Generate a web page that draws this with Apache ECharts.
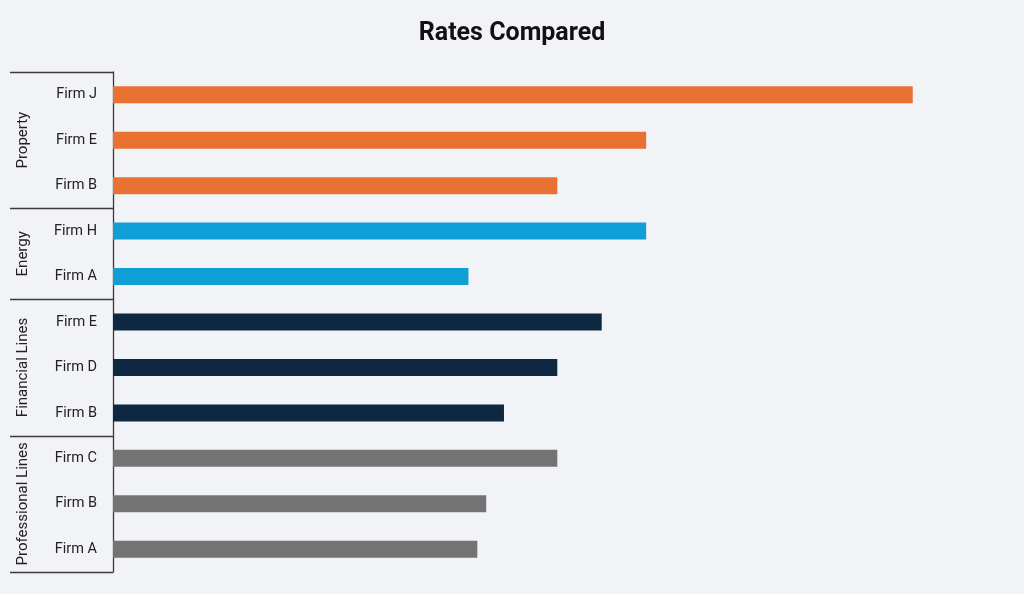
<!DOCTYPE html>
<html>
<head>
<meta charset="utf-8">
<script src="https://cdn.jsdelivr.net/npm/echarts@6/dist/echarts.min.js"></script>
<style>
html,body{margin:0;padding:0;background:#f2f3f7;}
#chart{width:1024px;height:594px;}
</style>
</head>
<body>
<div id="chart"></div>
<script>
// ---- data ----
const groups = ['Property', 'Energy', 'Financial Lines', 'Professional Lines'];
const propertyFirms = ['Firm J', 'Firm E', 'Firm B'];
const propertyRates = [1.8, 1.2, 1.0];
const energyFirms = ['Firm H', 'Firm A'];
const energyRates = [1.2, 0.8];
const financialFirms = ['Firm E', 'Firm D', 'Firm B'];
const financialRates = [1.1, 1.0, 0.88];
const professionalFirms = ['Firm C', 'Firm B', 'Firm A'];
const professionalRates = [1.0, 0.84, 0.82];
const groupColors = ['#E97132', '#0F9ED5', '#0E2841', '#737373'];

const groupFirms = [propertyFirms, energyFirms, financialFirms, professionalFirms];
const groupRates = [propertyRates, energyRates, financialRates, professionalRates];

const categories = [];
const barData = [];
const groupStarts = [];
groupFirms.forEach((firms, g) => {
  groupStarts.push(categories.length);
  firms.forEach((f, i) => {
    categories.push(groups[g] + '|' + f);
    barData.push({ value: groupRates[g][i], itemStyle: { color: groupColors[g] } });
  });
});
groupStarts.push(categories.length);

const FONT = 'Roboto, "Noto Sans", sans-serif';
const chart = echarts.init(document.getElementById('chart'), null, { renderer: 'canvas' });
chart.setOption({
  backgroundColor: '#f2f3f7',
  animation: false,
  title: {
    text: 'Rates Compared',
    left: 'center',
    top: 16,
    textStyle: { fontFamily: FONT, fontSize: 25, fontWeight: 'bold', color: '#111' }
  },
  grid: { left: 113, right: 22.4, top: 72, bottom: 22, containLabel: false },
  xAxis: {
    type: 'value', min: 0, max: 2,
    axisLine: { show: false }, axisTick: { show: false },
    axisLabel: { show: false }, splitLine: { show: false }
  },
  yAxis: {
    type: 'category',
    inverse: true,
    data: categories,
    axisLine: { show: true, lineStyle: { color: '#3a3a3a', width: 1.3 } },
    axisTick: { show: false },
    axisLabel: {
      margin: 16,
      fontFamily: FONT, fontSize: 14.5, color: '#222',
      padding: [5, 0, 0, 0],
      formatter: (v) => v.split('|')[1]
    }
  },
  series: [{
    type: 'bar',
    data: barData,
    barWidth: 17
  }]
});

// group separators and group labels placed through the axis scales
const x0 = chart.convertToPixel({ xAxisIndex: 0 }, 0);
const yOf = (i) => chart.convertToPixel({ yAxisIndex: 0 }, i);
const band = yOf(1) - yOf(0);
const elements = [];
groupStarts.forEach((s) => {
  const y = Math.round(yOf(Math.min(s, categories.length - 1)) + (s >= categories.length ? band / 2 : -band / 2)) + 0.5;
  elements.push({
    type: 'line',
    shape: { x1: 10, y1: y, x2: x0, y2: y },
    style: { stroke: '#3a3a3a', lineWidth: 1.3 }
  });
});
groups.forEach((g, k) => {
  const yc = (yOf(groupStarts[k]) + yOf(groupStarts[k + 1] - 1)) / 2;
  elements.push({
    type: 'text',
    x: 23, y: yc,
    rotation: Math.PI / 2,
    style: {
      text: g, fontFamily: FONT, fontSize: 15, fill: '#222',
      align: 'center', verticalAlign: 'middle'
    }
  });
});
chart.setOption({ graphic: { elements } });
</script>
</body>
</html>
